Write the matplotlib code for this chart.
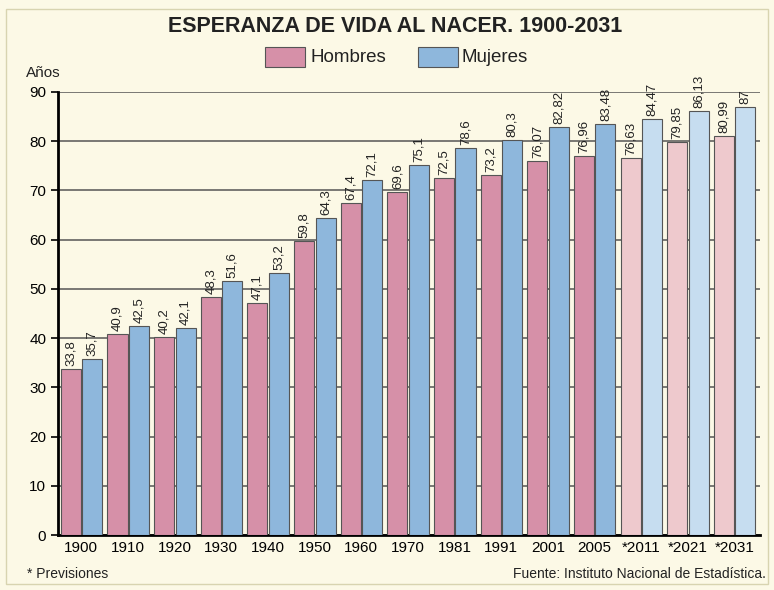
import matplotlib
matplotlib.use('Agg')
import matplotlib.pyplot as plt
import numpy as np
from matplotlib.patches import Rectangle

plt.rcParams['font.family'] = ['Liberation Sans Narrow', 'Liberation Sans', 'DejaVu Sans']

years = ['1900', '1910', '1920', '1930', '1940', '1950', '1960', '1970', '1981',
         '1991', '2001', '2005', '*2011', '*2021', '*2031']
hombres = [33.8, 40.9, 40.2, 48.3, 47.1, 59.8, 67.4, 69.6, 72.5, 73.2, 76.07, 76.96,
           76.63, 79.85, 80.99]
mujeres = [35.7, 42.5, 42.1, 51.6, 53.2, 64.3, 72.1, 75.1, 78.6, 80.3, 82.82, 83.48,
           84.47, 86.13, 87]
prevision = [False] * 12 + [True] * 3

bg = '#fcf9e6'
pink, pink_l = '#d690a8', '#eec9cd'
blue, blue_l = '#8eb7dc', '#c6ddf0'

fig = plt.figure(figsize=(7.74, 5.90), dpi=100, facecolor=bg)
fig.patches.append(Rectangle((0.008, 0.01), 0.984, 0.975, transform=fig.transFigure,
                             fill=False, edgecolor='#d8d4b0', linewidth=1))
ax = fig.add_axes([0.075, 0.0932, 0.907, 0.751])
ax.set_facecolor(bg)

x = np.arange(len(years))
w = 0.43
hc = [pink_l if p else pink for p in prevision]
mc = [blue_l if p else blue for p in prevision]
b1 = ax.bar(x - 0.225, hombres, w, color=hc, edgecolor='#555555', linewidth=0.8, zorder=3)
b2 = ax.bar(x + 0.235, mujeres, w, color=mc, edgecolor='#555555', linewidth=0.8, zorder=3)

def fmt(v):
    s = ('%g' % v).replace('.', ',')
    return s

for bars, vals in ((b1, hombres), (b2, mujeres)):
    for b, v in zip(bars, vals):
        ax.text(b.get_x() + b.get_width() / 2, v + 0.6, fmt(v), rotation=90,
                ha='center', va='bottom', fontsize=9.5, color='#222222', clip_on=False)

ax.set_xlim(-0.5, len(years) - 0.45)
ax.set_ylim(0, 90)
ax.set_yticks(range(0, 91, 10))
ax.set_xticks(x)
ax.set_xticklabels(years, fontsize=11)
ax.tick_params(axis='x', length=0, pad=4)
ax.tick_params(axis='y', labelsize=11, length=5, width=1.2, direction='out')
ax.yaxis.grid(True, color='#555555', linewidth=1.1, zorder=1)
for s in ('top', 'right'):
    ax.spines[s].set_visible(False)
ax.spines['left'].set_linewidth(2)
ax.spines['bottom'].set_linewidth(2)

fig.text(0.51, 0.955, 'ESPERANZA DE VIDA AL NACER. 1900-2031', ha='center', va='center',
         fontsize=15.5, fontweight='bold', color='#222222')
# legend
fig.patches.append(Rectangle((265 / 774, 1 - 67 / 590), 40 / 774, 20 / 590,
                             transform=fig.transFigure, facecolor=pink,
                             edgecolor='#555555', linewidth=0.8))
fig.text(310 / 774, 1 - 57 / 590, 'Hombres', va='center', fontsize=13.5, color='#222222')
fig.patches.append(Rectangle((418 / 774, 1 - 67 / 590), 40 / 774, 20 / 590,
                             transform=fig.transFigure, facecolor=blue,
                             edgecolor='#555555', linewidth=0.8))
fig.text(462 / 774, 1 - 57 / 590, 'Mujeres', va='center', fontsize=13.5, color='#222222')

fig.text(26 / 774, 1 - 73 / 590, 'Años', va='center', fontsize=11, color='#222222')
fig.text(27 / 774, 1 - 574 / 590, '* Previsiones', va='center', fontsize=10, color='#222222')
fig.text(766 / 774, 1 - 574 / 590, 'Fuente: Instituto Nacional de Estadística.', ha='right',
         va='center', fontsize=10, color='#222222')

fig.savefig('out.png', dpi=100, facecolor=bg)
